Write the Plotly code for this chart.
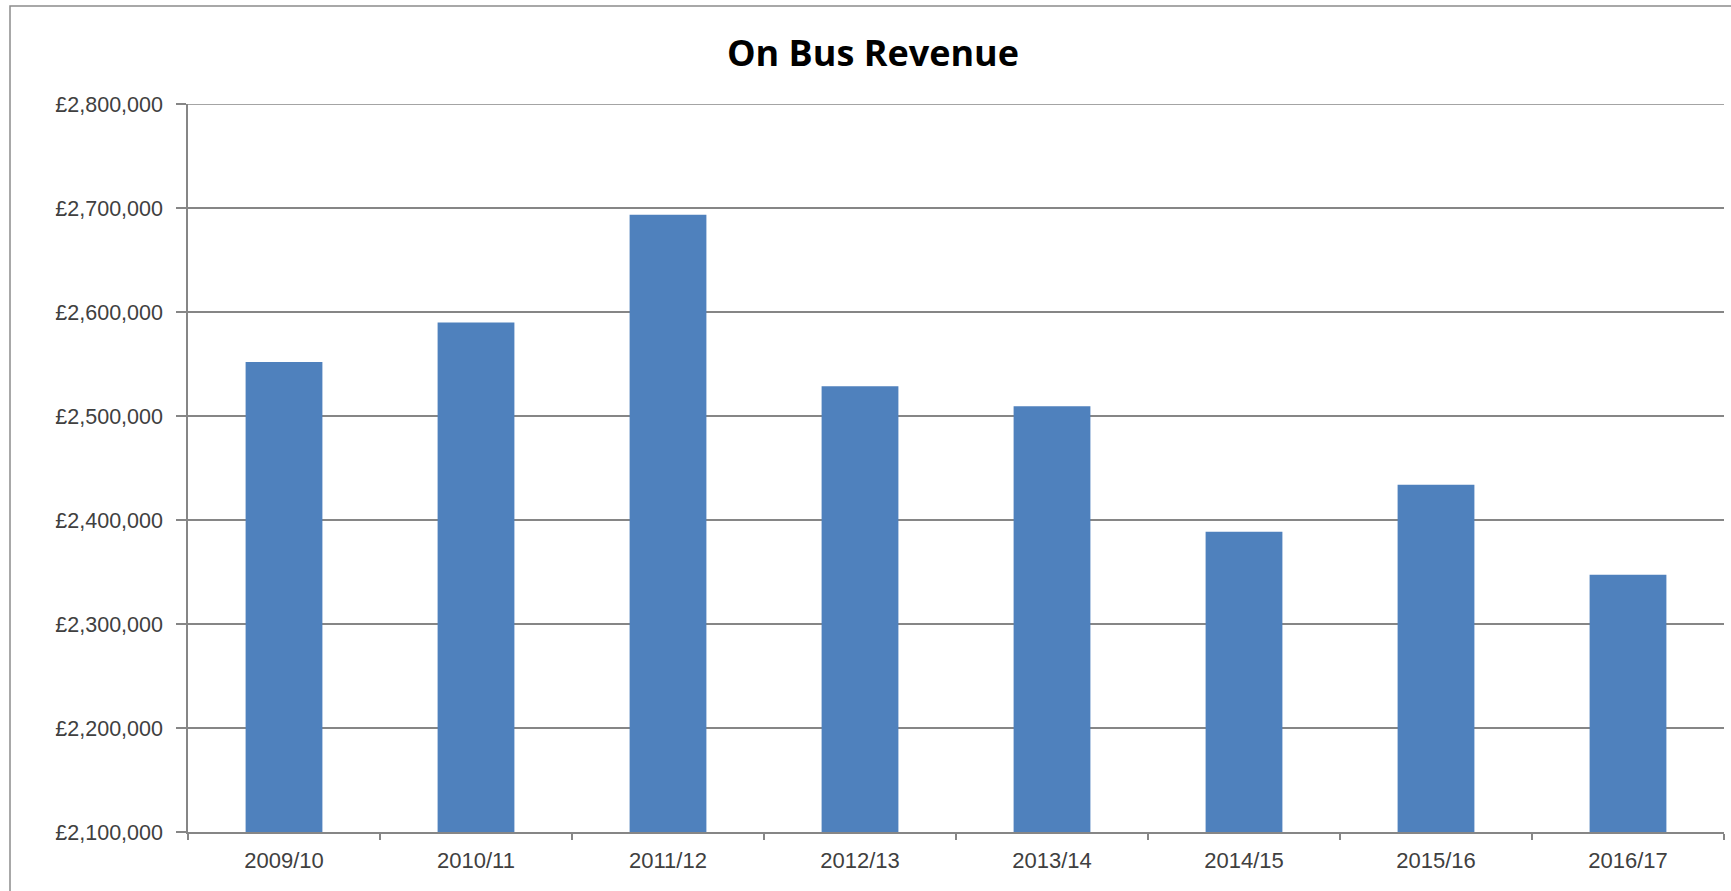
import plotly.graph_objects as go

# On bus revenue per financial year
years = ['2009/10', '2010/11', '2011/12', '2012/13',
         '2013/14', '2014/15', '2015/16', '2016/17']
revenue = [2552000, 2590000, 2693500, 2528700,
           2509300, 2388800, 2434000, 2347400]

y_ticks = [2100000, 2200000, 2300000, 2400000, 2500000, 2600000, 2700000, 2800000]
y_tick_labels = [f'£{v:,}' for v in y_ticks]

W, H = 1731, 891
M_L, M_R, M_T, M_B = 188, 7, 104, 59
GRID = '#868686'

fig = go.Figure()

fig.add_trace(go.Bar(
    x=years,
    y=revenue,
    marker=dict(color='#4F81BD', line=dict(width=0)),
    hovertemplate='<b>%{x}</b><br>£%{y:,.0f}<extra></extra>'
))

# outer chart frame (cropped on right and bottom in the original)
pw = W - M_L - M_R
ph = H - M_T - M_B
fig.add_shape(
    type='rect', xref='paper', yref='paper',
    x0=(10 - M_L) / pw, x1=(W + 20 - M_L) / pw,
    y0=-(H + 20 - M_T - ph) / ph, y1=(ph + M_T - 6) / ph,
    line=dict(color='#8c8c8c', width=1.5),
    layer='below'
)

# top gridline sits on the range edge, plotly skips it
fig.add_shape(
    type='line', xref='paper', yref='y',
    x0=0, x1=1, y0=y_ticks[-1], y1=y_ticks[-1],
    line=dict(color=GRID, width=1.5),
    layer='below'
)

fig.update_layout(
    width=W, height=H,
    margin=dict(l=M_L, r=M_R, t=M_T, b=M_B),
    paper_bgcolor='white',
    plot_bgcolor='white',
    bargap=0.6,
    showlegend=False,
    title=dict(
        text='<b>On Bus Revenue</b>',
        x=873 / W, xref='container', xanchor='center',
        y=1 - 53 / H, yref='container', yanchor='middle',
        font=dict(family='Open Sans', size=36, color='#000000')
    ),
    font=dict(family='Liberation Sans', size=21, color='#404040'),
)

fig.update_xaxes(
    type='category',
    showline=True, linecolor=GRID, linewidth=1.5,
    ticks='outside', tickson='boundaries', ticklen=6, tickcolor=GRID, tickwidth=1.5,
    showgrid=False,
    tickfont=dict(size=22),
    ticklabelstandoff=8,
)

fig.update_yaxes(
    range=[2100000, 2800000],
    tickvals=y_ticks,
    ticktext=y_tick_labels,
    showline=True, linecolor=GRID, linewidth=1.5,
    ticks='outside', ticklen=10, tickcolor=GRID, tickwidth=1.5,
    showgrid=True, gridcolor=GRID, gridwidth=1.5,
    zeroline=False,
    tickfont=dict(size=21.5),
    ticklabelstandoff=9,
)

fig.write_html('out.html', config={'displayModeBar': False},
               post_script="document.body.style.margin='0';")
